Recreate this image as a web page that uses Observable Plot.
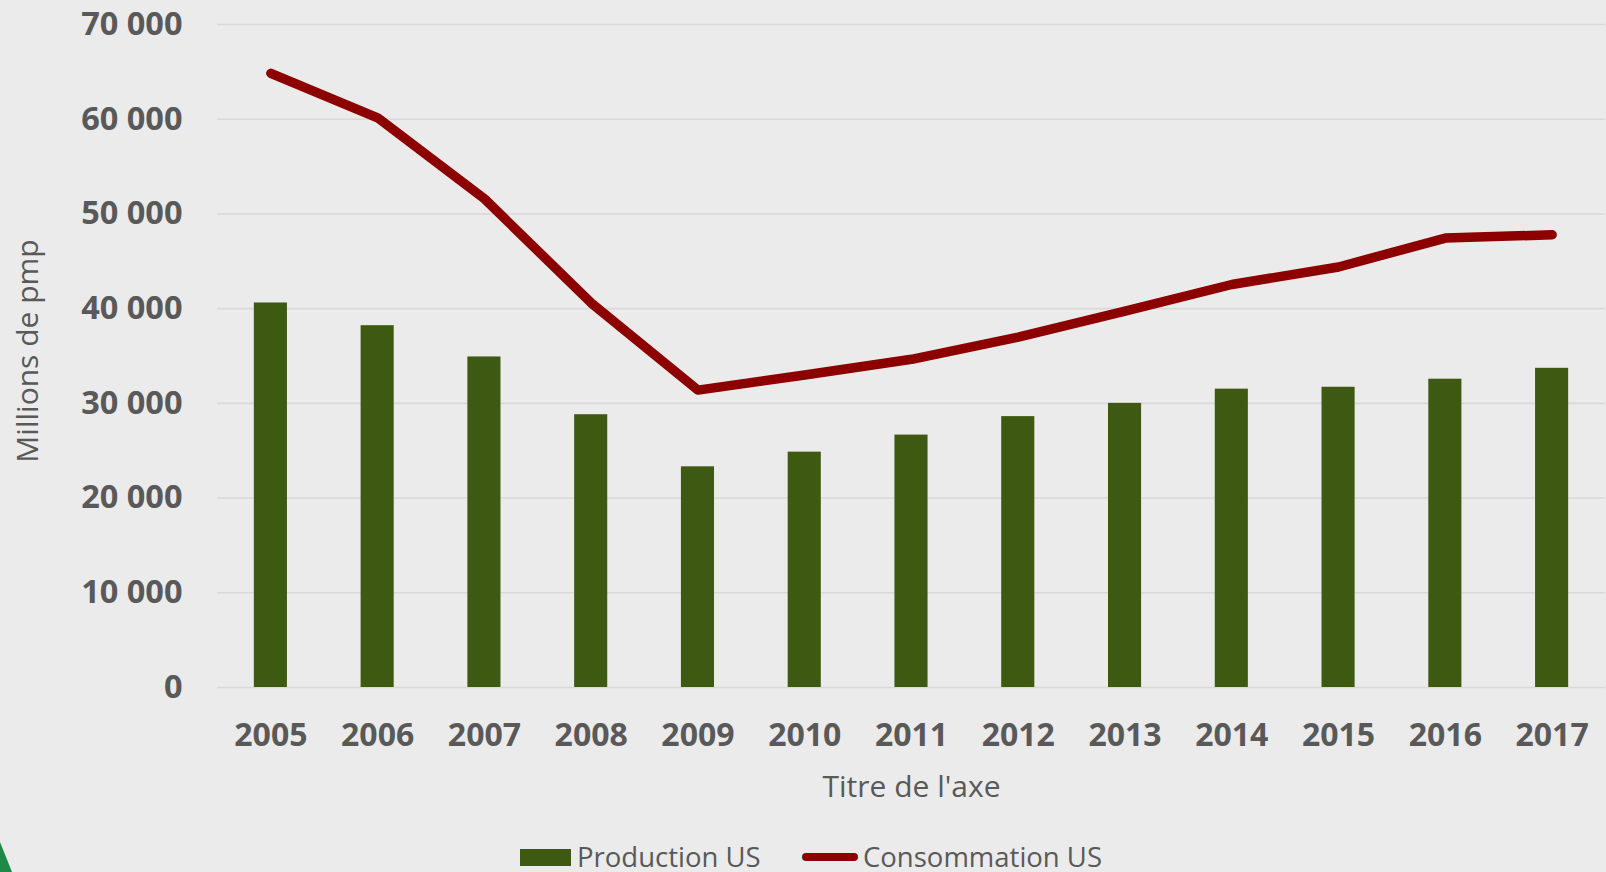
<!DOCTYPE html>
<html>
<head>
<meta charset="utf-8">
<script src="https://cdn.jsdelivr.net/npm/d3@7"></script>
<script src="https://cdn.jsdelivr.net/npm/@observablehq/plot@0.6"></script>
<style>
  html, body { margin: 0; padding: 0; background: #ebebeb; width: 1606px; height: 872px; overflow: hidden; font-family: "Open Sans", sans-serif; }
  #chart svg { display: block; }
  #legend { position: relative; height: 42px; width: 1606px; }
  #legend .sq { position: absolute; left: 520px; top: 19px; width: 51px; height: 17px; background: #3e5a12; }
  #legend .ln { position: absolute; left: 802px; top: 23px; width: 56px; height: 8px; border-radius: 4px; background: #8c0000; }
  #legend .tx { position: absolute; top: 8px; font-size: 27.5px; line-height: 38px; color: #595959; white-space: nowrap; }
  #corner { position: absolute; left: 0; top: 842px; width: 12px; height: 30px; background: #1f8a48; clip-path: polygon(0 0, 100% 100%, 0 100%); }
</style>
</head>
<body>
<div id="chart"></div>
<div id="legend">
  <div class="sq"></div><div class="tx" style="left:577px">Production US</div>
  <div class="ln"></div><div class="tx" style="left:863px">Consommation US</div>
</div>
<div id="corner"></div>
<script>
const years = ["2005","2006","2007","2008","2009","2010","2011","2012","2013","2014","2015","2016","2017"];
const production = [40600, 38200, 34900, 28800, 23300, 24850, 26650, 28600, 30000, 31500, 31700, 32550, 33700];
const consumption = [64850, 60150, 51600, 40600, 31400, 33000, 34650, 37000, 39750, 42550, 44400, 47450, 47800];
const yTicks = [0, 10000, 20000, 30000, 40000, 50000, 60000, 70000];
const yTitle = "Millions de pmp";
const xTitle = "Titre de l'axe";

const data = years.map((y, i) => ({year: y, production: production[i], consumption: consumption[i]}));
const fmt = d => d3.format(",")(d).replace(/,/g, " ");
const textColor = "#595959";

const chart = Plot.plot({
  width: 1606,
  height: 830,
  marginLeft: 217,
  marginRight: 1,
  marginTop: 24,
  marginBottom: 143,
  style: {background: "#ebebeb", fontFamily: "'Open Sans', sans-serif", color: textColor},
  x: {type: "band", domain: years, paddingInner: 0.69, paddingOuter: 0.345, align: 0.5, round: false, label: null},
  y: {domain: [0, 70000], label: null},
  marks: [
    Plot.gridY(yTicks, {stroke: "#d9d9d9", strokeOpacity: 1, strokeWidth: 1.6}),
    Plot.barY(data, {x: "year", y: "production", fill: "#3e5a12"}),
    Plot.lineY(data, {x: "year", y: "consumption", stroke: "#8c0000", strokeWidth: 9.5, strokeLinecap: "round", strokeLinejoin: "round"}),
    Plot.axisY(yTicks, {tickSize: 0, tickPadding: 35, tickFormat: fmt, fontSize: 32.5, fontWeight: "bold", fill: textColor, label: null}),
    Plot.axisX({tickSize: 0, tickPadding: 36, fontSize: 32, fontWeight: "bold", fill: textColor, label: null}),
    Plot.text([xTitle], {frameAnchor: "bottom", dy: 100, lineAnchor: "middle", fontSize: 30, fill: textColor}),
    Plot.text([yTitle], {frameAnchor: "left", dx: -189, dy: -5, rotate: -90, lineAnchor: "middle", textAnchor: "middle", fontSize: 30, fill: textColor})
  ]
});
document.getElementById("chart").appendChild(chart);
</script>
</body>
</html>
